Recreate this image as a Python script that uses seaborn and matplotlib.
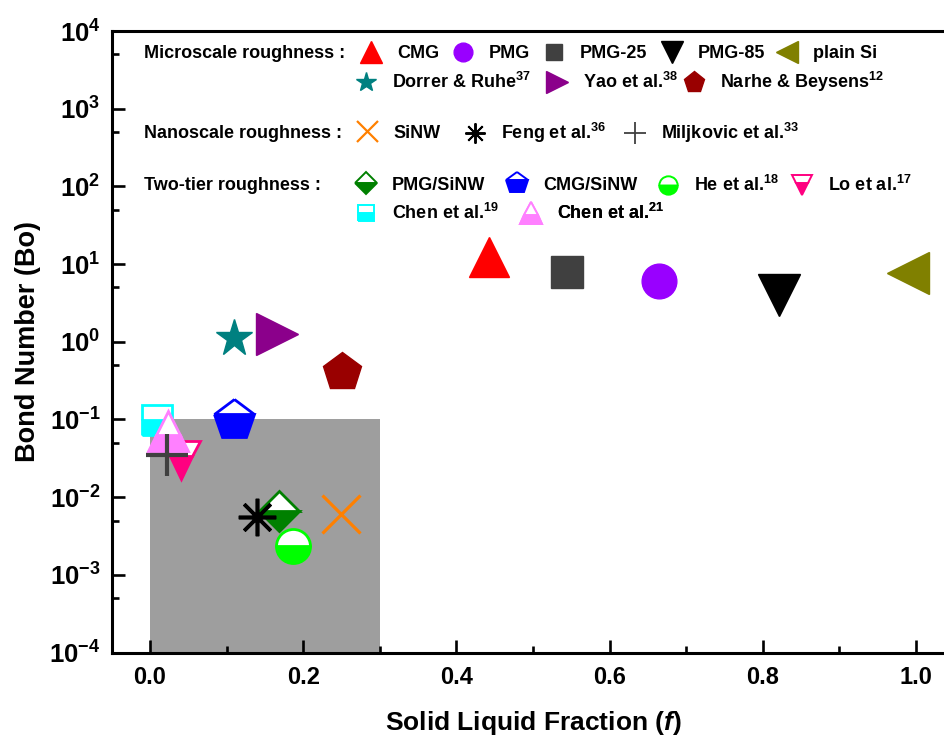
import numpy as np
import pandas as pd
import matplotlib
matplotlib.use("Agg")
import matplotlib.pyplot as plt
import seaborn as sns
from matplotlib.ticker import FixedLocator, MultipleLocator, NullFormatter, FormatStrFormatter

# ---------------- data ----------------
series = ["CMG", "PMG", "PMG-25", "PMG-85", "plain Si",
          "Dorrer & Ruhe", "Yao et al.", "Narhe & Beysens",
          "PMG/SiNW", "CMG/SiNW", "He et al.", "Lo et al.", "Chen et al. 19", "Chen et al. 21",
          "SiNW", "Feng et al.", "Miljkovic et al."]
solid_fraction = [0.443, 0.665, 0.544, 0.821, 0.990,
                  0.110, 0.166, 0.250,
                  0.168, 0.110, 0.187, 0.041, 0.0095, 0.023,
                  0.249, 0.140, 0.022]
bond_number = [12.4, 6.1, 7.8, 3.95, 7.7,
               1.12, 1.26, 0.41,
               0.00656, 0.098, 0.00236, 0.0305, 0.097, 0.071,
               0.00605, 0.0056, 0.0344]
legend_labels = ["CMG", "PMG", "PMG-25", "PMG-85", "plain Si",
                 "Dorrer & Ruhe$^{37}$", "Yao et al.$^{38}$", "Narhe & Beysens$^{12}$",
                 "PMG/SiNW", "CMG/SiNW", "He et al.$^{18}$", "Lo et al.$^{17}$",
                 "Chen et al.$^{19}$", "Chen et al.$^{21}$",
                 "SiNW", "Feng et al.$^{36}$", "Miljkovic et al.$^{33}$"]
group_titles = ["Microscale roughness :", "Nanoscale roughness :", "Two-tier roughness :"]
shade_f = [0.0, 0.3]
shade_bo = [1e-4, 0.1]

df = pd.DataFrame({"series": series, "f": solid_fraction, "Bo": bond_number})

# ---------------- styles ----------------
styles = {
    "CMG":              dict(marker="^", ms=29, color="#ff0000"),
    "PMG":              dict(marker="o", ms=25, color="#9900ff"),
    "PMG-25":           dict(marker="s", ms=22.5, color="#404040"),
    "PMG-85":           dict(marker="v", ms=30, color="#000000"),
    "plain Si":         dict(marker="<", ms=30, color="#808000"),
    "Dorrer & Ruhe":    dict(marker="*", ms=28, color="#008080"),
    "Yao et al.":       dict(marker=">", ms=30, color="#8b008b"),
    "Narhe & Beysens":  dict(marker="p", ms=29, color="#990000"),
    "PMG/SiNW":         dict(marker="D", ms=20, color="#008000", half=True),
    "CMG/SiNW":         dict(marker="p", ms=30, color="#0000ff", half=True),
    "He et al.":        dict(marker="o", ms=24.5, color="#00ff00", half=True),
    "Lo et al.":        dict(marker="v", ms=27, color="#ff0080", half=True),
    "Chen et al. 19":   dict(marker="s", ms=22, color="#00ffff", half=True),
    "Chen et al. 21":   dict(marker="^", ms=29, color="#ff80ff", half=True),
    "SiNW":             dict(marker="x", ms=28, color="#ff8000", mew=2.3, legmew=1.6),
    "Feng et al.":      dict(marker=(8, 2, 0), ms=27, color="#000000", mew=2.6, legmew=1.4),
    "Miljkovic et al.": dict(marker="+", ms=30, color="#404040", mew=3.0, legmew=1.3),
}

W, H, DPI = 945, 739, 100
sns.set_theme(style="ticks")
plt.rcParams["font.family"] = ["Liberation Sans", "DejaVu Sans"]
plt.rcParams["font.weight"] = "bold"
plt.rcParams["text.color"] = "black"
plt.rcParams["axes.labelcolor"] = "black"
plt.rcParams["xtick.color"] = "black"
plt.rcParams["ytick.color"] = "black"
plt.rcParams["mathtext.fontset"] = "custom"
plt.rcParams["mathtext.rm"] = "Liberation Sans:bold"
plt.rcParams["mathtext.bf"] = "Liberation Sans:bold"
plt.rcParams["mathtext.it"] = "Liberation Sans:italic:bold"

fig = plt.figure(figsize=(W / DPI, H / DPI), dpi=DPI)
ax_left, ax_right, ax_top, ax_bottom = 111.7, 954.3, 31.0, 652.5
ax = fig.add_axes([ax_left / W, 1 - ax_bottom / H, (ax_right - ax_left) / W, (ax_bottom - ax_top) / H])

ax.set_yscale("log")
ax.fill_between(shade_f, shade_bo[0], shade_bo[1], color="#9e9e9e", lw=0, zorder=0)

handles = {}
for name, lab in zip(series, legend_labels):
    st = styles[name]
    sub = df[df["series"] == name]
    kw = dict(marker=st["marker"], markersize=st["ms"], linestyle="", color=st["color"])
    if st.get("half"):
        kw.update(fillstyle="bottom", markerfacecolor=st["color"], markerfacecoloralt="white",
                  markeredgecolor=st["color"], markeredgewidth=2.0)
    elif "mew" in st:
        kw.update(markeredgewidth=st["mew"], markeredgecolor=st["color"])
    else:
        kw.update(markeredgewidth=1.0, markeredgecolor=st["color"], markerfacecolor=st["color"])
    n_before = len(ax.lines)
    sns.lineplot(data=sub, x="f", y="Bo", ax=ax, legend=False, **kw)
    line = ax.lines[n_before]
    line.set_label(lab)
    line.set_clip_on(False)
    handles[name] = line

ax.set_xlim(-0.05, 1.05)
ax.set_ylim(1e-4, 1e4)

# ticks
ax.xaxis.set_major_locator(MultipleLocator(0.2))
ax.xaxis.set_minor_locator(MultipleLocator(0.1))
ax.xaxis.set_major_formatter(FormatStrFormatter("%.1f"))
ax.yaxis.set_major_locator(FixedLocator([10.0 ** k for k in range(-4, 5)]))
ax.yaxis.set_minor_locator(FixedLocator([5 * 10.0 ** k for k in range(-4, 4)]))
ax.yaxis.set_minor_formatter(NullFormatter())
ax.tick_params(which="major", direction="in", length=9.5, width=1.9, top=False, right=False, color="black")
ax.tick_params(which="minor", direction="in", length=5, width=1.9, top=False, right=False, color="black")
ax.tick_params(axis="y", which="major", labelsize=18.5, pad=8, labelcolor="black")
ax.tick_params(axis="x", which="major", labelsize=17, pad=10, labelcolor="black")
for lab in ax.get_xticklabels() + ax.get_yticklabels():
    lab.set_fontweight("bold")
for sp in ax.spines.values():
    sp.set_linewidth(2.2)
    sp.set_color("black")
ax.grid(False)

ax.set_ylabel("Bond Number (Bo)", fontsize=19.5, fontweight="bold", labelpad=6, color="black")
ax.set_xlabel("Solid Liquid Fraction ($f$)", fontsize=19, fontweight="bold", labelpad=14, color="black")

# ---------------- grouped legend ----------------
LEG_FS = 13
fs_px = LEG_FS * DPI / 72
HL = 1.15
title_rows = [54, 133, 185]
for t, yr in zip(group_titles, title_rows):
    fig.text(144 / W, 1 - yr / H, t, ha="left", va="center", fontsize=LEG_FS, fontweight="bold")

legend_layout = [
    ("CMG", 371, 54), ("PMG", 463, 54), ("PMG-25", 554, 54), ("PMG-85", 672, 54), ("plain Si", 787, 54),
    ("Dorrer & Ruhe", 366, 82), ("Yao et al.", 557, 82), ("Narhe & Beysens", 694, 82),
    ("SiNW", 367, 133), ("Feng et al.", 475, 133), ("Miljkovic et al.", 635, 133),
    ("PMG/SiNW", 366, 185), ("CMG/SiNW", 517, 185), ("He et al.", 668, 185), ("Lo et al.", 802, 185),
    ("Chen et al. 19", 366, 213), ("Chen et al. 21", 531, 213),
]
for name, xm, yr in legend_layout:
    h = handles[name]
    anchor_x = xm - HL * fs_px / 2
    gap_px = 26 - HL * fs_px / 2
    leg = ax.legend([h], [h.get_label()], loc="center left",
                    bbox_to_anchor=(anchor_x / W, 1 - yr / H), bbox_transform=fig.transFigure,
                    frameon=False, borderpad=0, borderaxespad=0, handlelength=HL,
                    handletextpad=gap_px / fs_px, markerscale=0.54, numpoints=1,
                    prop=dict(size=LEG_FS, weight="bold"))
    if "legmew" in styles[name]:
        leg.legend_handles[0].set_markeredgewidth(styles[name]["legmew"])
    elif styles[name].get("half"):
        leg.legend_handles[0].set_markeredgewidth(1.4)
    ax.add_artist(leg)

fig.savefig("out.png", dpi=DPI)
